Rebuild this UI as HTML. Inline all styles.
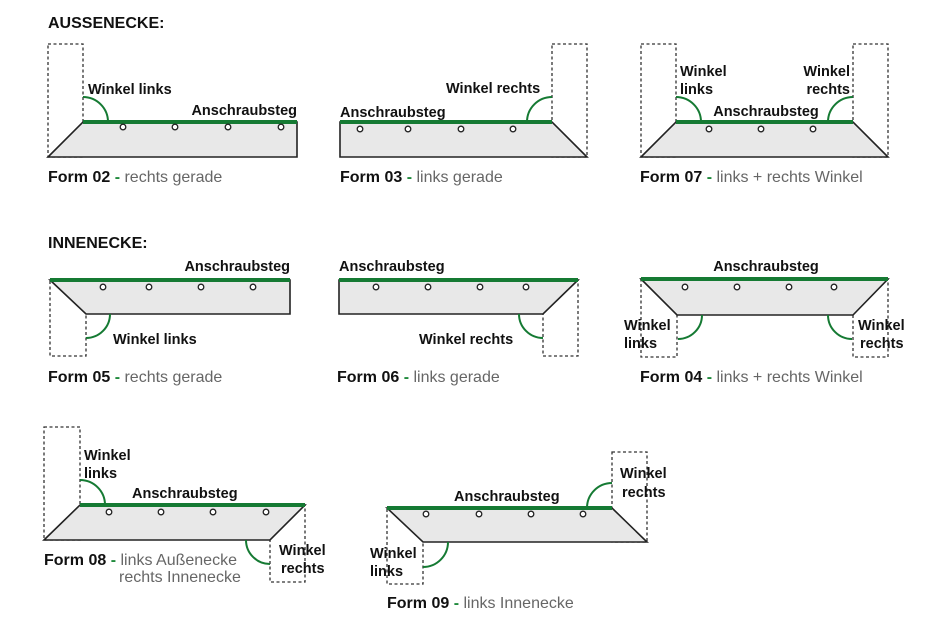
<!DOCTYPE html>
<html><head><meta charset="utf-8"><style>
html,body{margin:0;padding:0;background:#fff;}
svg{display:block;font-family:"Liberation Sans",Arial,sans-serif;}
.t{font-weight:bold;font-size:14.5px;fill:#111;}
.c{font-size:16px;}
.b{font-weight:bold;fill:#111;}
.g{font-weight:bold;fill:#1f8a3c;}
.n{fill:#666;}
.sh{fill:#e8e8e8;stroke:#222;stroke-width:1.6;}
.gl{stroke:#157a33;stroke-width:4;}
.d{fill:none;stroke:#333;stroke-width:1.3;stroke-dasharray:3,2.5;}
.a{fill:none;stroke:#157a33;stroke-width:2;}
.h{fill:#fff;stroke:#222;stroke-width:1.3;}
</style></head><body>
<svg width="930" height="632" viewBox="0 0 930 632" xmlns="http://www.w3.org/2000/svg">
<text x="48" y="28" class="t" style="font-size:16px">AUSSENECKE:</text>
<text x="48" y="248" class="t" style="font-size:16px">INNENECKE:</text>

<!-- Form 02 -->
<rect x="48" y="44" width="35" height="113" class="d"/>
<polygon points="83,122 297,122 297,157 48,157" class="sh"/>
<line x1="83" y1="122" x2="297" y2="122" class="gl"/>
<path d="M83,97 A25,25 0 0 1 108,122" class="a"/>
<g class="h"><circle cx="123" cy="127" r="2.8"/><circle cx="175" cy="127" r="2.8"/><circle cx="228" cy="127" r="2.8"/><circle cx="281" cy="127" r="2.8"/></g>
<text x="88" y="94" class="t">Winkel links</text>
<text x="297" y="115" class="t" text-anchor="end">Anschraubsteg</text>
<text x="48" y="182" class="c"><tspan class="b">Form 02</tspan><tspan class="g"> - </tspan><tspan class="n">rechts gerade</tspan></text>

<!-- Form 03 -->
<rect x="552" y="44" width="35" height="113" class="d"/>
<polygon points="340,122 552,122 587,157 340,157" class="sh"/>
<line x1="340" y1="122" x2="552" y2="122" class="gl"/>
<path d="M527,122 A25,25 0 0 1 552,97" class="a"/>
<g class="h"><circle cx="360" cy="129" r="2.8"/><circle cx="408" cy="129" r="2.8"/><circle cx="461" cy="129" r="2.8"/><circle cx="513" cy="129" r="2.8"/></g>
<text x="446" y="93" class="t">Winkel rechts</text>
<text x="340" y="117" class="t">Anschraubsteg</text>
<text x="340" y="182" class="c"><tspan class="b">Form 03</tspan><tspan class="g"> - </tspan><tspan class="n">links gerade</tspan></text>

<!-- Form 07 -->
<rect x="641" y="44" width="35" height="113" class="d"/>
<rect x="853" y="44" width="35" height="113" class="d"/>
<polygon points="676,122 853,122 888,157 641,157" class="sh"/>
<line x1="676" y1="122" x2="853" y2="122" class="gl"/>
<path d="M676,97 A25,25 0 0 1 701,122" class="a"/>
<path d="M828,122 A25,25 0 0 1 853,97" class="a"/>
<g class="h"><circle cx="709" cy="129" r="2.8"/><circle cx="761" cy="129" r="2.8"/><circle cx="813" cy="129" r="2.8"/></g>
<text x="680" y="76" class="t">Winkel</text><text x="680" y="94" class="t">links</text>
<text x="850" y="76" class="t" text-anchor="end">Winkel</text><text x="850" y="94" class="t" text-anchor="end">rechts</text>
<text x="766" y="116" class="t" text-anchor="middle">Anschraubsteg</text>
<text x="640" y="182" class="c"><tspan class="b">Form 07</tspan><tspan class="g"> - </tspan><tspan class="n">links + rechts Winkel</tspan></text>

<!-- Form 05 -->
<rect x="50" y="280" width="36" height="76" class="d"/>
<polygon points="50,280 290,280 290,314 86,314" class="sh"/>
<line x1="50" y1="280" x2="290" y2="280" class="gl"/>
<path d="M110,314 A24,24 0 0 1 86,338" class="a"/>
<g class="h"><circle cx="103" cy="287" r="2.8"/><circle cx="149" cy="287" r="2.8"/><circle cx="201" cy="287" r="2.8"/><circle cx="253" cy="287" r="2.8"/></g>
<text x="113" y="344" class="t">Winkel links</text>
<text x="290" y="271" class="t" text-anchor="end">Anschraubsteg</text>
<text x="48" y="382" class="c"><tspan class="b">Form 05</tspan><tspan class="g"> - </tspan><tspan class="n">rechts gerade</tspan></text>

<!-- Form 06 -->
<rect x="543" y="280" width="35" height="76" class="d"/>
<polygon points="339,280 578,280 543,314 339,314" class="sh"/>
<line x1="339" y1="280" x2="578" y2="280" class="gl"/>
<path d="M543,338 A24,24 0 0 1 519,314" class="a"/>
<g class="h"><circle cx="376" cy="287" r="2.8"/><circle cx="428" cy="287" r="2.8"/><circle cx="480" cy="287" r="2.8"/><circle cx="526" cy="287" r="2.8"/></g>
<text x="419" y="344" class="t">Winkel rechts</text>
<text x="339" y="271" class="t">Anschraubsteg</text>
<text x="337" y="382" class="c"><tspan class="b">Form 06</tspan><tspan class="g"> - </tspan><tspan class="n">links gerade</tspan></text>

<!-- Form 04 -->
<rect x="641" y="279" width="36" height="78" class="d"/>
<rect x="853" y="279" width="35" height="78" class="d"/>
<polygon points="641,279 888,279 853,315 677,315" class="sh"/>
<line x1="641" y1="279" x2="888" y2="279" class="gl"/>
<path d="M702,315 A24,24 0 0 1 678,339" class="a"/>
<path d="M852,339 A24,24 0 0 1 828,315" class="a"/>
<g class="h"><circle cx="685" cy="287" r="2.8"/><circle cx="737" cy="287" r="2.8"/><circle cx="789" cy="287" r="2.8"/><circle cx="834" cy="287" r="2.8"/></g>
<text x="624" y="330" class="t">Winkel</text><text x="624" y="348" class="t">links</text>
<text x="858" y="330" class="t">Winkel</text><text x="860" y="348" class="t">rechts</text>
<text x="766" y="271" class="t" text-anchor="middle">Anschraubsteg</text>
<text x="640" y="382" class="c"><tspan class="b">Form 04</tspan><tspan class="g"> - </tspan><tspan class="n">links + rechts Winkel</tspan></text>

<!-- Form 08 -->
<rect x="44" y="427" width="36" height="113" class="d"/>
<rect x="270" y="505" width="35" height="77" class="d"/>
<polygon points="80,505 305,505 270,540 44,540" class="sh"/>
<line x1="80" y1="505" x2="305" y2="505" class="gl"/>
<path d="M80,480 A25,25 0 0 1 105,505" class="a"/>
<path d="M270,564 A24,24 0 0 1 246,540" class="a"/>
<g class="h"><circle cx="109" cy="512" r="2.8"/><circle cx="161" cy="512" r="2.8"/><circle cx="213" cy="512" r="2.8"/><circle cx="266" cy="512" r="2.8"/></g>
<text x="84" y="460" class="t">Winkel</text><text x="84" y="478" class="t">links</text>
<text x="132" y="498" class="t">Anschraubsteg</text>
<text x="279" y="555" class="t">Winkel</text><text x="281" y="573" class="t">rechts</text>
<text x="44" y="565" class="c"><tspan class="b">Form 08</tspan><tspan class="g"> - </tspan><tspan class="n">links Außenecke</tspan></text>
<text x="119" y="582" class="c n">rechts Innenecke</text>

<!-- Form 09 -->
<rect x="387" y="508" width="36" height="76" class="d"/>
<rect x="612" y="452" width="35" height="90" class="d"/>
<polygon points="387,508 612,508 647,542 423,542" class="sh"/>
<line x1="387" y1="508" x2="612" y2="508" class="gl"/>
<path d="M587,508 A25,25 0 0 1 612,483" class="a"/>
<path d="M448,542 A25,25 0 0 1 423,567" class="a"/>
<g class="h"><circle cx="426" cy="514" r="2.8"/><circle cx="479" cy="514" r="2.8"/><circle cx="531" cy="514" r="2.8"/><circle cx="583" cy="514" r="2.8"/></g>
<text x="620" y="478" class="t">Winkel</text><text x="622" y="497" class="t">rechts</text>
<text x="370" y="558" class="t">Winkel</text><text x="370" y="576" class="t">links</text>
<text x="454" y="501" class="t">Anschraubsteg</text>
<text x="387" y="608" class="c"><tspan class="b">Form 09</tspan><tspan class="g"> - </tspan><tspan class="n">links Innenecke</tspan></text>
</svg>
</body></html>
